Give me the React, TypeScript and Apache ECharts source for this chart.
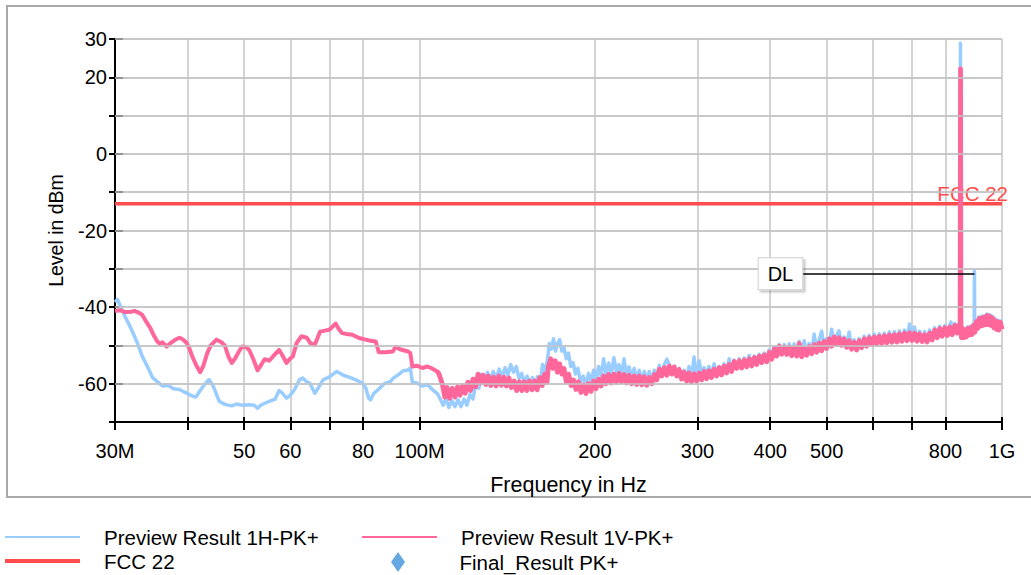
import { useEffect, useRef } from "react";
import * as echarts from "echarts";

const FONT = '"Liberation Sans", Arial, Helvetica, sans-serif';

// [frequency in MHz, level in dBm]
const previewH: [number, number][] = [
  [30.0, -38.7], [30.3, -38.0], [30.6, -39.5], [31.2, -42.4], [31.7, -44.5], [32.2, -46.7], [32.8, -49.5],
  [33.4, -52.8], [34.1, -55.5], [34.8, -58.4], [35.5, -59.5], [36.2, -60.6], [37.0, -60.4], [37.8, -61.3],
  [38.7, -61.5], [39.5, -62.2], [40.0, -62.6], [40.7, -63.2], [41.3, -63.5], [41.8, -62.3], [42.6, -60.5],
  [43.5, -58.9], [44.2, -60.5], [45.3, -64.6], [46.3, -65.4], [47.6, -65.8], [48.5, -65.3], [49.5, -65.6],
  [51.0, -65.5], [52.0, -65.6], [52.7, -66.4], [53.5, -65.5], [55.2, -64.6], [56.5, -64.0], [57.4, -61.8],
  [58.1, -62.4], [59.1, -63.8], [60.0, -63.0], [61.0, -61.5], [62.2, -59.0], [63.0, -58.5], [64.0, -59.5],
  [64.8, -59.9], [66.1, -62.5], [67.2, -60.8], [68.3, -59.0], [70.0, -58.2], [72.1, -56.8], [74.0, -57.8],
  [76.7, -58.6], [78.5, -59.3], [79.8, -59.9], [80.8, -61.0], [81.8, -63.8], [82.4, -64.2], [83.5, -62.5],
  [85.1, -61.4], [87.0, -60.0], [89.2, -59.4], [90.2, -58.5], [91.9, -57.7], [93.8, -56.6], [95.6, -56.4],
  [96.4, -55.9], [97.2, -59.6], [99.0, -59.8], [101.1, -60.6], [103.2, -60.2], [105.0, -61.4], [107.3, -62.6],
  [108.5, -64.0], [109.8, -65.6], [111.0, -64.0], [112.3, -66.2], [113.6, -64.4], [115.0, -66.0], [116.4, -64.2],
  [117.8, -66.0], [119.2, -64.0], [120.6, -65.6], [122.0, -62.8], [123.5, -64.0], [125.0, -59.8], [126.4, -61.2],
  [127.8, -57.5], [129.3, -59.5], [130.8, -57.0], [132.3, -59.2], [133.8, -56.8], [135.4, -58.8], [137.0, -56.2],
  [138.6, -58.5], [140.2, -55.8], [141.8, -57.8], [143.4, -55.0], [145.0, -57.0], [146.6, -55.5], [148.2, -58.6],
  [149.8, -57.3], [151.4, -60.0], [153.0, -58.0], [154.6, -60.5], [156.2, -58.4], [157.8, -60.8], [159.4, -58.2],
  [161.0, -60.0], [162.6, -55.0], [164.2, -57.0], [165.8, -53.8], [167.0, -49.5], [168.4, -51.0], [169.8, -48.3],
  [171.2, -51.5], [172.6, -49.5], [174.0, -48.5], [175.5, -51.5], [177.0, -50.5], [178.6, -53.5], [180.2, -52.0],
  [181.8, -55.5], [183.5, -54.5], [185.2, -57.5], [187.0, -56.0], [189.0, -59.5], [191.0, -58.0], [193.0, -60.5],
  [195.0, -57.3], [197.0, -59.5], [199.0, -56.5], [201.0, -58.8], [203.0, -55.5], [205.0, -58.0], [207.0, -53.5],
  [209.0, -57.5], [211.2, -54.6], [213.4, -57.4], [215.6, -53.2], [217.8, -57.0], [220.0, -55.0], [222.2, -57.8],
  [224.4, -53.5], [226.7, -58.0], [229.0, -55.6], [231.3, -58.5], [233.6, -56.0], [236.0, -59.0], [238.4, -56.5],
  [240.8, -59.3], [243.2, -56.8], [245.6, -59.5], [248.0, -56.8], [250.5, -59.3], [253.0, -56.5], [255.5, -58.5],
  [258.0, -55.2], [260.6, -57.5], [263.2, -55.0], [265.8, -53.6], [268.4, -55.0], [271.0, -57.3], [273.7, -55.5],
  [276.4, -58.0], [279.1, -56.0], [281.8, -58.5], [284.6, -56.5], [287.4, -59.0], [290.2, -55.5], [293.0, -58.8],
  [296.0, -53.0], [299.0, -58.5], [302.0, -54.0], [305.0, -58.0], [308.0, -55.8], [311.0, -58.0], [314.0, -55.5],
  [317.2, -57.8], [320.4, -54.8], [323.6, -57.5], [326.8, -55.5], [330.0, -57.5], [333.3, -54.8], [336.6, -57.0],
  [340.0, -53.5], [343.4, -56.5], [346.8, -53.8], [350.3, -55.8], [353.8, -53.5], [357.3, -55.6], [360.9, -53.3],
  [364.5, -55.4], [368.1, -52.6], [371.8, -55.0], [375.5, -52.8], [379.2, -54.8], [383.0, -52.3], [386.8, -54.3],
  [390.6, -52.0], [394.5, -54.0], [398.4, -51.2], [402.4, -53.4], [406.4, -50.4], [410.4, -52.6], [414.5, -49.8],
  [418.6, -52.0], [422.8, -49.8], [427.0, -52.2], [431.2, -49.6], [435.5, -52.5], [439.8, -49.6], [444.2, -52.5],
  [448.6, -49.0], [453.0, -52.5], [457.5, -48.8], [462.0, -52.4], [466.6, -49.5], [471.2, -52.0], [475.9, -47.0],
  [480.6, -51.5], [485.4, -48.5], [490.2, -46.3], [495.0, -50.5], [500.0, -48.2], [505.0, -50.0], [510.0, -45.8],
  [515.0, -49.8], [520.0, -47.3], [525.0, -46.2], [530.3, -49.8], [535.6, -47.8], [541.0, -50.2], [546.4, -46.5],
  [551.8, -50.8], [557.3, -48.5], [562.9, -51.0], [568.5, -48.2], [574.2, -50.4], [579.9, -47.6], [585.7, -50.0],
  [591.6, -47.4], [597.5, -49.6], [603.5, -47.0], [609.5, -49.4], [615.6, -47.0], [621.8, -49.3], [628.0, -46.8],
  [634.3, -49.1], [640.6, -46.5], [647.0, -49.0], [653.5, -46.4], [660.0, -48.9], [666.6, -46.2], [673.3, -48.7],
  [680.0, -46.0], [686.8, -48.6], [693.7, -44.4], [700.6, -48.5], [707.6, -45.2], [714.7, -48.7], [721.9, -46.3],
  [729.1, -48.8], [736.4, -46.4], [743.8, -48.9], [751.2, -46.0], [758.7, -48.4], [766.3, -45.4], [774.0, -47.8],
  [781.7, -45.0], [789.5, -47.4], [797.4, -44.8], [805.4, -47.2], [813.5, -44.6], [817.0, -43.9], [821.6, -47.0],
  [829.8, -44.3], [838.0, -46.6], [844.0, -44.6], [846.5, -43.5], [847.5, -8.0], [848.5, 28.9], [849.5, -44.0],
  [852.0, -47.8], [855.0, -45.2], [859.0, -47.8], [863.0, -45.6], [868.0, -47.6], [873.0, -45.2], [878.0, -47.1],
  [883.0, -45.0], [888.0, -47.0], [893.0, -44.4], [895.8, -44.5], [896.8, -30.6], [897.8, -46.0], [903.0, -43.5],
  [908.0, -45.4], [913.0, -42.6], [918.0, -44.8], [923.0, -42.4], [928.0, -44.6], [933.0, -42.2], [938.0, -44.4],
  [943.0, -41.8], [948.0, -44.4], [953.0, -42.0], [958.0, -44.6], [963.0, -42.4], [968.0, -45.2], [973.0, -43.0],
  [978.0, -45.6], [983.0, -43.4], [988.0, -45.8], [994.0, -43.6], [1000.0, -45.6],
];

const previewV: [number, number][] = [
  [30.0, -41.0], [30.6, -40.8], [31.2, -41.3], [32.0, -41.2], [32.4, -41.0], [33.0, -41.5], [33.4, -42.0],
  [34.0, -44.0], [34.5, -45.5], [35.0, -47.5], [35.4, -48.8], [35.8, -49.6], [36.2, -49.2], [36.8, -50.3],
  [37.3, -49.5], [38.0, -48.6], [38.7, -48.0], [39.2, -48.4], [39.8, -49.3], [40.3, -51.0], [40.7, -52.8],
  [41.3, -55.0], [42.0, -57.0], [42.5, -55.5], [43.2, -52.0], [43.8, -50.0], [44.8, -48.5], [45.7, -49.2],
  [46.3, -50.0], [47.0, -53.0], [47.6, -54.6], [48.2, -53.5], [49.0, -51.5], [49.6, -50.3], [50.3, -50.4],
  [51.0, -51.2], [51.8, -53.5], [52.7, -56.5], [53.5, -55.0], [54.2, -53.6], [55.2, -54.0], [56.3, -52.5],
  [57.4, -51.2], [58.1, -52.5], [59.1, -54.6], [59.9, -53.5], [60.6, -52.9], [61.5, -49.4], [62.7, -47.6],
  [64.0, -48.0], [65.0, -49.5], [66.1, -49.8], [67.5, -46.4], [68.5, -46.2], [70.0, -45.9], [71.0, -45.0],
  [71.8, -44.3], [72.5, -45.5], [73.6, -46.8], [75.0, -47.0], [76.7, -47.2], [78.5, -48.0], [80.8, -48.5],
  [82.0, -48.7], [84.1, -49.0], [85.1, -51.8], [87.5, -51.8], [89.9, -51.6], [91.0, -50.4], [92.5, -51.0],
  [95.6, -51.6], [96.4, -52.0], [97.2, -55.5], [99.0, -55.3], [101.1, -55.9], [103.2, -55.5], [105.0, -56.0],
  [107.3, -56.8], [108.0, -57.5], [109.4, -60.0], [110.5, -63.5], [111.5, -61.0], [112.6, -63.8], [113.8, -61.2],
  [115.0, -63.5], [116.2, -60.8], [117.4, -63.0], [118.6, -60.5], [119.8, -62.5], [121.0, -59.6], [122.3, -61.8],
  [123.5, -58.8], [124.8, -60.8], [126.0, -57.5], [127.3, -59.8], [128.6, -57.8], [130.0, -60.2], [131.3, -58.0],
  [132.6, -60.5], [134.0, -58.3], [135.4, -60.6], [136.8, -58.0], [138.2, -60.4], [139.6, -58.3], [141.0, -60.6],
  [142.4, -58.5], [143.8, -61.0], [145.3, -59.3], [146.8, -61.8], [148.3, -59.5], [149.8, -61.8], [151.3, -59.5],
  [152.8, -61.8], [154.4, -59.3], [156.0, -61.6], [157.6, -59.3], [159.2, -61.6], [160.8, -58.4], [162.4, -60.5],
  [164.0, -57.5], [165.5, -59.6], [166.5, -55.5], [168.0, -53.5], [169.5, -56.0], [171.0, -54.0], [172.5, -57.0],
  [174.0, -54.8], [175.5, -57.5], [177.0, -56.0], [178.6, -59.5], [180.3, -57.5], [182.0, -60.5], [183.8, -59.0],
  [185.6, -61.5], [187.4, -59.5], [189.3, -62.3], [191.2, -60.3], [193.1, -62.6], [195.0, -60.0], [197.0, -62.0],
  [199.0, -59.3], [201.0, -61.3], [203.0, -58.8], [205.0, -60.6], [207.0, -58.0], [209.0, -60.0], [211.2, -57.6],
  [213.4, -59.8], [215.6, -57.5], [217.8, -59.6], [220.0, -57.3], [222.2, -59.5], [224.4, -57.6], [226.7, -59.8],
  [229.0, -57.8], [231.3, -60.0], [233.6, -58.0], [236.0, -60.2], [238.4, -58.0], [240.8, -60.3], [243.2, -58.2],
  [245.6, -60.4], [248.0, -58.4], [250.5, -60.0], [253.0, -57.6], [255.5, -59.0], [258.0, -56.2], [260.6, -58.0],
  [263.2, -55.8], [265.8, -57.8], [268.4, -55.4], [271.0, -57.5], [273.7, -55.6], [276.4, -58.0], [279.1, -56.3],
  [281.8, -58.8], [284.6, -57.0], [287.4, -59.3], [290.2, -57.2], [293.0, -59.5], [296.0, -57.4], [299.0, -59.3],
  [302.0, -57.2], [305.0, -59.0], [308.0, -56.8], [311.0, -58.7], [314.0, -56.6], [317.2, -58.4], [320.4, -56.2],
  [323.6, -58.0], [326.8, -55.8], [330.0, -57.7], [333.3, -55.4], [336.6, -57.2], [340.0, -55.0], [343.4, -56.8],
  [346.8, -54.2], [350.3, -56.0], [353.8, -54.0], [357.3, -55.9], [360.9, -53.8], [364.5, -55.6], [368.1, -53.5],
  [371.8, -55.4], [375.5, -53.2], [379.2, -55.0], [383.0, -52.8], [386.8, -54.5], [390.6, -52.5], [394.5, -54.3],
  [398.4, -51.8], [402.4, -53.6], [406.4, -50.9], [410.4, -52.8], [414.5, -50.2], [418.6, -52.3], [422.8, -50.4],
  [427.0, -52.4], [431.2, -50.5], [435.5, -52.7], [439.8, -50.6], [444.2, -52.8], [448.6, -49.5], [453.0, -53.0],
  [457.5, -50.8], [462.0, -52.6], [466.6, -50.3], [471.2, -52.2], [475.9, -49.8], [480.6, -51.8], [485.4, -49.4],
  [490.2, -51.4], [495.0, -49.0], [500.0, -50.8], [505.0, -48.3], [510.0, -50.2], [515.0, -47.8], [520.0, -49.8],
  [525.0, -48.0], [530.3, -50.0], [535.6, -48.3], [541.0, -50.5], [546.4, -48.8], [551.8, -51.0], [557.3, -49.2],
  [562.9, -51.2], [568.5, -48.8], [574.2, -50.6], [579.9, -48.3], [585.7, -50.2], [591.6, -48.0], [597.5, -49.8],
  [603.5, -47.8], [609.5, -49.6], [615.6, -47.6], [621.8, -49.5], [628.0, -47.5], [634.3, -49.3], [640.6, -47.3],
  [647.0, -49.2], [653.5, -47.2], [660.0, -49.1], [666.6, -47.0], [673.3, -48.9], [680.0, -46.8], [686.8, -48.8],
  [693.7, -46.7], [700.6, -48.7], [707.6, -46.8], [714.7, -48.9], [721.9, -47.0], [729.1, -49.0], [736.4, -47.2],
  [743.8, -49.1], [751.2, -46.8], [758.7, -48.6], [766.3, -46.0], [774.0, -48.0], [781.7, -45.6], [789.5, -47.6],
  [797.4, -45.4], [805.4, -47.4], [813.5, -45.2], [821.6, -47.2], [829.8, -44.8], [838.0, -46.8], [844.0, -45.0],
  [847.5, -44.0], [848.8, 22.2], [850.0, -44.0], [852.0, -48.0], [855.0, -45.5], [859.0, -48.0], [863.0, -46.0],
  [868.0, -47.8], [873.0, -45.6], [878.0, -47.3], [883.0, -45.4], [888.0, -47.2], [893.0, -44.8], [898.0, -46.6],
  [903.0, -43.8], [908.0, -45.6], [913.0, -43.0], [918.0, -45.0], [923.0, -42.8], [928.0, -44.8], [933.0, -42.6],
  [938.0, -44.6], [943.0, -42.2], [948.0, -44.6], [953.0, -42.4], [958.0, -44.8], [963.0, -42.8], [968.0, -45.4],
  [973.0, -43.5], [978.0, -45.8], [983.0, -43.8], [988.0, -46.0], [994.0, -44.0], [1000.0, -45.8],
];

// above this frequency the vertical trace is a dense noise band
const noiseBandStart = 107.3;

const limitFreqs = [30, 1000];
const limitLevels = [-13, -13];
const finalResult: [number, number][] = [];

const dlFreq = 896.8;
const dlLevel = -31.3;
const dlLabelFreq = 454;

const tickFreqs = [30, 40, 50, 60, 70, 80, 100, 200, 300, 400, 500, 600, 700, 800, 1000];
const labelFreqs = [30, 50, 60, 80, 100, 200, 300, 400, 500, 800, 1000];
const labelTexts = ["30M", "50", "60", "80", "100M", "200", "300", "400", "500", "800", "1G"];
const levelTicks = [-70, -60, -50, -40, -30, -20, -10, 0, 10, 20, 30];
const levelLabels = [30, 20, 0, -20, -40, -60];

const NAME_H = "Preview Result 1H-PK+";
const NAME_V = "Preview Result 1V-PK+";
const NAME_L = "FCC 22";
const NAME_F = "Final_Result PK+";

const BLUE = "#99ccff";
const PINK = "#ff6699";
const RED = "#ff4d4d";
const DIAMOND = "#3f93db";
const GRID = "#c4c4c4";

const lg = (f: number) => Math.log10(f);
const toXY = (arr: [number, number][]) => arr.map(([f, v]) => [lg(f), v]);

export default function App() {
  const ref = useRef<HTMLDivElement>(null);

  useEffect(() => {
    if (!ref.current) return;
    const chart = echarts.init(ref.current, undefined, { renderer: "svg" });
    const xMin = lg(tickFreqs[0]);
    const xMax = lg(tickFreqs[tickFreqs.length - 1]);
    const fmtX = (v: number) => {
      const f = Math.pow(10, v);
      let best = 0;
      labelFreqs.forEach((lf, i) => {
        if (Math.abs(lf - f) < Math.abs(labelFreqs[best] - f)) best = i;
      });
      return labelTexts[best];
    };
    const textBase = { fontFamily: FONT, color: "#000" };
    const legendBase = {
      padding: 0,
      itemWidth: 75,
      textStyle: { ...textBase, fontSize: 20.5, lineHeight: 22, padding: [0, 0, 0, 19] },
      selectedMode: false as const,
    };

    chart.setOption({
      animation: false,
      backgroundColor: "#fff",
      textStyle: { fontFamily: FONT },
      grid: { left: 115, right: 29, top: 39, bottom: 153, containLabel: false, outerBoundsMode: "none" },
      graphic: [
        {
          type: "rect",
          shape: { x: 7, y: 6, width: 1040, height: 491 },
          style: { fill: "none", stroke: "#a9a9a9", lineWidth: 2 },
          silent: true,
        },
      ],
      legend: [
        { ...legendBase, itemHeight: 2, icon: "rect", data: [NAME_H], left: 5, top: 526 },
        { ...legendBase, itemHeight: 2, icon: "rect", data: [NAME_V], left: 362, top: 526 },
        { ...legendBase, itemHeight: 4, icon: "rect", data: [NAME_L], left: 5, top: 550 },
        {
          ...legendBase,
          itemHeight: 20,
          data: [{ name: NAME_F, icon: "path://M7,0 L14,10 L7,20 L0,10 Z" }],
          left: 391,
          top: 551,
        },
      ],
      xAxis: [
        {
          type: "value",
          min: xMin,
          max: xMax,
          name: "Frequency in Hz",
          nameLocation: "middle",
          nameGap: 52,
          nameTextStyle: { ...textBase, fontSize: 21.5, padding: [0, 0, 0, 20] },
          axisLine: { show: true, onZero: false, lineStyle: { color: "#000", width: 2 } },
          axisTick: {
            show: true,
            length: 8,
            lineStyle: { color: "#000", width: 2 },
            customValues: tickFreqs.map(lg),
          },
          axisLabel: {
            ...textBase,
            fontSize: 20,
            margin: 19,
            customValues: labelFreqs.map(lg),
            formatter: fmtX,
          },
          splitLine: { show: true, lineStyle: { color: GRID, width: 1.5 } },
        },
        {
          type: "value",
          position: "bottom",
          min: xMin,
          max: xMax,
          axisLine: { show: false, onZero: false },
          axisTick: {
            show: true,
            inside: true,
            length: 5,
            lineStyle: { color: "#000", width: 2 },
            customValues: tickFreqs.map(lg),
          },
          axisLabel: { show: false },
          splitLine: { show: false },
        },
      ],
      yAxis: [
        {
          type: "value",
          min: -70,
          max: 30,
          interval: 10,
          name: "Level in dBm",
          nameLocation: "middle",
          nameGap: 49,
          nameTextStyle: { ...textBase, fontSize: 19.5 },
          axisLine: { show: true, onZero: false, lineStyle: { color: "#000", width: 2 } },
          axisTick: { show: true, length: 6, lineStyle: { color: "#000", width: 2 }, customValues: levelTicks },
          axisLabel: { ...textBase, fontSize: 20, margin: 8, customValues: levelLabels },
          splitLine: { show: true, lineStyle: { color: GRID, width: 1.5 } },
        },
        {
          type: "value",
          position: "left",
          min: -70,
          max: 30,
          interval: 10,
          axisLine: { show: false, onZero: false },
          axisTick: { show: true, inside: true, length: 8, lineStyle: { color: "#000", width: 2 } },
          axisLabel: { show: false },
          splitLine: { show: false },
        },
      ],
      series: [
        {
          name: NAME_L,
          type: "line",
          symbol: "none",
          data: limitFreqs.map((f, i) => [lg(f), limitLevels[i]]),
          lineStyle: { color: RED, width: 3.5 },
          itemStyle: { color: RED },
          endLabel: {
            show: true,
            formatter: "FCC 22",
            color: RED,
            fontFamily: FONT,
            fontSize: 20.5,
            align: "right",
            verticalAlign: "bottom",
            offset: [-2, 0],
          },
          // horizontal grid lines at every level tick
          markLine: {
            silent: true,
            symbol: ["none", "none"],
            label: { show: false },
            lineStyle: { color: GRID, width: 1.5, type: "solid" },
            data: levelTicks.filter((v) => v > levelTicks[0]).map((v) => ({ yAxis: v })),
          },
          silent: true,
          z: 2,
        },
        {
          name: NAME_H,
          type: "line",
          symbol: "none",
          data: toXY(previewH),
          lineStyle: { color: BLUE, width: 3.5, join: "round" },
          itemStyle: { color: BLUE },
          silent: true,
          z: 3,
          markLine: {
            silent: true,
            symbol: ["none", "none"],
            lineStyle: { color: "#000", width: 1.5, type: "solid" },
            label: {
              show: true,
              position: "start",
              distance: 0,
              formatter: "DL",
              color: "#000",
              fontFamily: FONT,
              fontSize: 20,
              lineHeight: 20,
              backgroundColor: "#fff",
              borderColor: "#cfcfcf",
              borderWidth: 1,
              padding: [6, 9, 5, 9],
              shadowColor: "rgba(0,0,0,0.25)",
              shadowBlur: 2,
              shadowOffsetX: 2,
              shadowOffsetY: 2,
            },
            data: [
              [
                { coord: [lg(dlLabelFreq), dlLevel] },
                { coord: [lg(dlFreq), dlLevel] },
              ],
            ],
          },
        },
        {
          name: NAME_V,
          type: "line",
          symbol: "none",
          data: toXY(previewV.filter(([f]) => f <= noiseBandStart + 0.8)),
          lineStyle: { color: PINK, width: 4, join: "round" },
          itemStyle: { color: PINK },
          silent: true,
          z: 4,
        },
        {
          name: NAME_V,
          type: "line",
          symbol: "none",
          data: toXY(previewV.filter(([f]) => f >= noiseBandStart)),
          lineStyle: { color: PINK, width: 4.8, join: "round" },
          itemStyle: { color: PINK },
          silent: true,
          z: 4,
        },
        {
          name: NAME_F,
          type: "scatter",
          symbol: "diamond",
          data: toXY(finalResult),
          itemStyle: { color: DIAMOND },
        },
      ],
    });
    return () => chart.dispose();
  }, []);

  return (
    <div
      ref={ref}
      style={{ position: "fixed", left: 0, top: 0, width: 1031, height: 575, background: "#fff" }}
    />
  );
}
